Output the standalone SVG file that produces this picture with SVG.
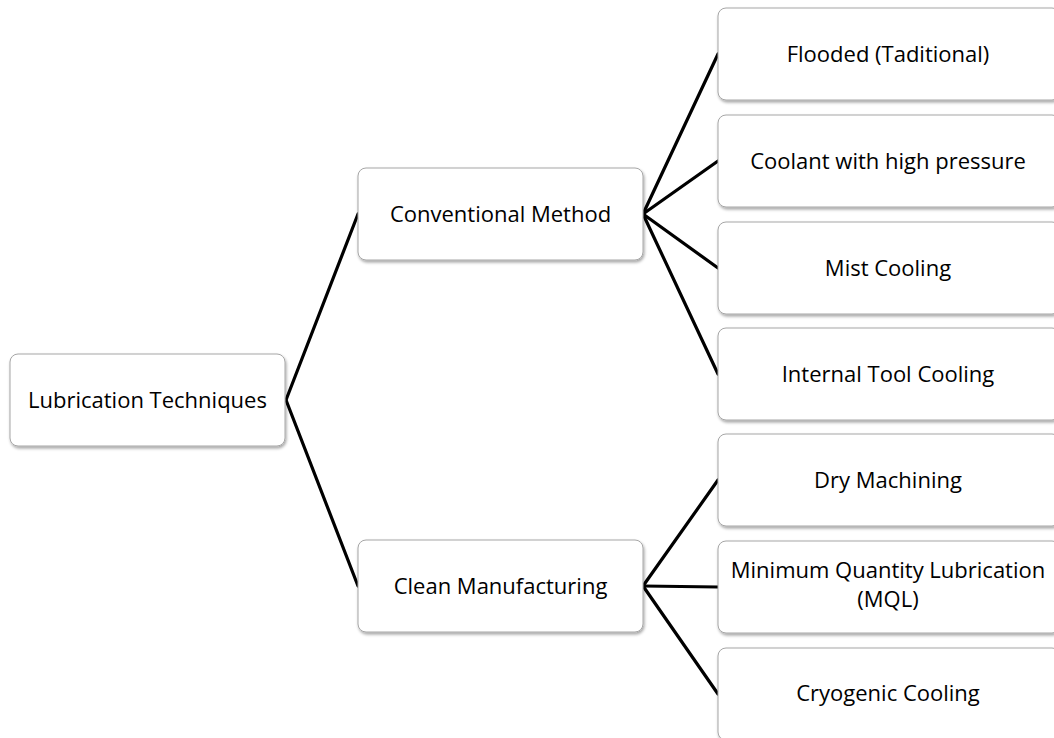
<svg xmlns="http://www.w3.org/2000/svg" width="1054" height="738" viewBox="0 0 1054 738">
<defs>
<filter id="sh" x="-10%" y="-10%" width="120%" height="130%">
<feDropShadow dx="1" dy="2" stdDeviation="1.5" flood-color="#000" flood-opacity="0.35"/>
</filter>
<style>
.box{fill:#fff;stroke:#a6a6a6;stroke-width:1;filter:url(#sh)}
.t{font-family:"Open Sans","Liberation Sans",sans-serif;font-size:22px;fill:#000;text-anchor:middle}
.c{stroke:#000;stroke-width:3.2;fill:none;stroke-linecap:round}
</style>
</defs>
<rect width="1054" height="738" fill="#fff"/>
<g id="connectors">
<line class="c" x1="286" y1="400" x2="358" y2="214"/>
<line class="c" x1="286" y1="400" x2="358" y2="586"/>
<line class="c" x1="643" y1="214" x2="718" y2="54"/>
<line class="c" x1="643" y1="214" x2="718" y2="161"/>
<line class="c" x1="643" y1="214" x2="718" y2="268"/>
<line class="c" x1="643" y1="214" x2="718" y2="374"/>
<line class="c" x1="643" y1="586" x2="718" y2="480"/>
<line class="c" x1="643" y1="586" x2="718" y2="587"/>
<line class="c" x1="643" y1="586" x2="718" y2="694"/>
</g>
<g id="root"><rect class="box" x="10" y="354" width="275" height="92" rx="8"/><text class="t" x="147.5" y="408">Lubrication Techniques</text></g>
<g id="conventional"><rect class="box" x="358" y="168" width="285" height="92" rx="8"/><text class="t" x="500.5" y="222">Conventional Method</text></g>
<g id="clean"><rect class="box" x="358" y="540" width="285" height="92" rx="8"/><text class="t" x="500.5" y="594">Clean Manufacturing</text></g>
<g id="flooded"><rect class="box" x="718" y="8" width="342" height="92" rx="8"/><text class="t" x="888" y="62">Flooded (Taditional)</text></g>
<g id="coolant"><rect class="box" x="718" y="115" width="342" height="92" rx="8"/><text class="t" x="888" y="169">Coolant with high pressure</text></g>
<g id="mist"><rect class="box" x="718" y="222" width="342" height="92" rx="8"/><text class="t" x="888" y="276">Mist Cooling</text></g>
<g id="internal"><rect class="box" x="718" y="328" width="342" height="92" rx="8"/><text class="t" x="888" y="382">Internal Tool Cooling</text></g>
<g id="dry"><rect class="box" x="718" y="434" width="342" height="92" rx="8"/><text class="t" x="888" y="488">Dry Machining</text></g>
<g id="mql"><rect class="box" x="718" y="541" width="342" height="92" rx="8"/><text class="t" x="888" y="578">Minimum Quantity Lubrication</text><text class="t" x="888" y="607">(MQL)</text></g>
<g id="cryo"><rect class="box" x="718" y="648" width="342" height="92" rx="8"/><text class="t" x="888" y="701">Cryogenic Cooling</text></g>
</svg>
